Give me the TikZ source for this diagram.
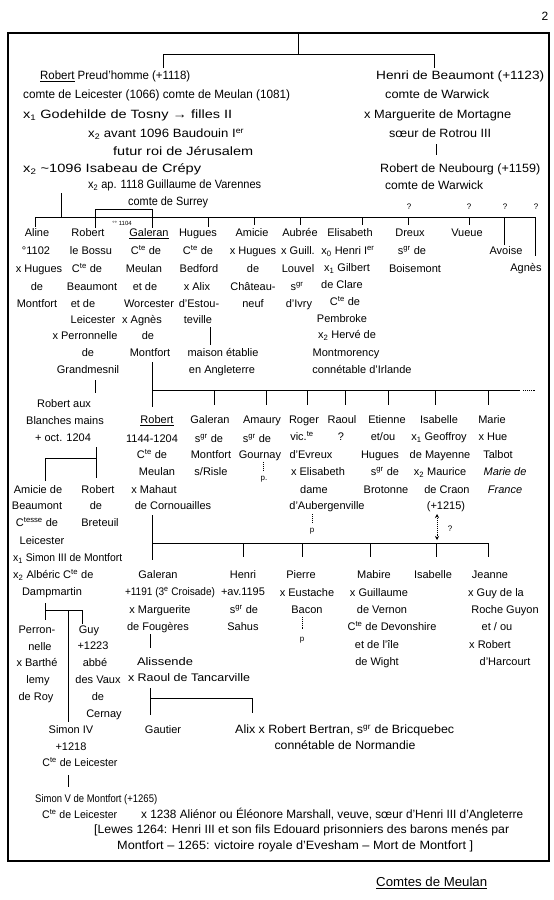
\documentclass[tikz,border=0pt]{standalone}
\usepackage{fontspec}
\usepackage{graphicx}
\setmainfont{Liberation Sans}
\usetikzlibrary{arrows.meta}
\newcommand\Cte{C\textsuperscript{te}}
\newcommand\xs[1]{x\textsubscript{#1}}
\newcommand\fw[2]{\resizebox{#1pt}{\height}{#2}}
\begin{document}
\begin{tikzpicture}[x=1pt,y=-1pt,
  t/.style={inner sep=0pt,text height=8pt,text depth=1pt,font=\fontsize{11}{12}\selectfont},
  tl/.style={t,anchor=west},
  big/.style={font=\fontsize{12}{14}\selectfont},
  sm/.style={font=\fontsize{8}{9}\selectfont},
  ln/.style={line width=0.9pt},
  dl/.style={line width=0.9pt,densely dotted}]
\useasboundingbox (0,0) rectangle (554,900);
\fill[white] (0,0) rectangle (554,900);
\draw[line width=1.2pt] (8,33) rectangle (549,861);
\node[t,big] (pg) at (545,17) {2};

% ---------- top generation
\draw[ln] (298,33) -- (298,54);
\draw[ln] (163,68) -- (163,54) -- (434,54) -- (434,68);

\node[tl,big] (rp1) at (40,76) {\fw{150}{\underline{Robert} Preud'homme (+1118)}};
\node[tl,big] (rp2) at (23,95) {\fw{267}{comte de Leicester (1066) comte de Meulan (1081)}};
\node[tl,big] (rp3) at (23,115) {\fw{209}{\xs{1} Godehilde de Tosny → filles II}};
\node[tl,big] (rp4) at (88,134) {\fw{156}{\xs{2} avant 1096 Baudouin I\textsuperscript{er}}};
\node[tl,big] (rp5) at (113,152) {\fw{140}{futur roi de Jérusalem}};
\node[tl,big] (rp6) at (23,169) {\fw{178}{\xs{2} \textasciitilde1096 Isabeau de Crépy}};
\node[tl,big] (rp7) at (88,185) {\fw{173}{\xs{2} ap. 1118 Guillaume de Varennes}};
\node[tl,big] (rp8) at (128,202) {\fw{80}{comte de Surrey}};

\node[tl,big] (hb1) at (376,76) {\fw{168}{Henri de Beaumont (+1123)}};
\node[tl,big] (hb2) at (385,95) {\fw{104}{comte de Warwick}};
\node[tl,big] (hb3) at (364,115) {\fw{147}{x Marguerite de Mortagne}};
\node[tl,big] (hb4) at (389,134) {\fw{102}{sœur de Rotrou III}};
\draw[ln] (436,144) -- (436,155);
\node[tl,big] (rn1) at (380,169) {\fw{160}{Robert de Neubourg (+1159)}};
\node[tl,big] (rn2) at (385,186) {\fw{98}{comte de Warwick}};

% ---------- children of Robert Preud'homme
\draw[ln] (61,193) -- (61,217);
\draw[ln] (35,217) -- (535,217);
\draw[ln] (35,217) -- (35,227);
\draw[ln] (95,228) -- (95,209) -- (152,209) -- (152,228);
\node[t,font=\fontsize{6}{7}\selectfont] (tw) at (122,222) {°° 1104};
\draw[ln] (208,217) -- (208,227);
\draw[ln] (254,217) -- (254,225);
\draw[ln] (300,217) -- (300,225);
\draw[ln] (362,217) -- (362,225);
\draw[ln] (408,217) -- (408,225);
\draw[ln] (469,217) -- (469,225);
\draw[ln] (504,217) -- (504,245);
\draw[ln] (535,217) -- (535,256);
\node[t,sm] (q1) at (409,206) {?};
\node[t,sm] (q2) at (469,206) {?};
\node[t,sm] (q3) at (505,206) {?};
\node[t,sm] (q4) at (536,206) {?};

\node[t] (al1) at (37,233) {Aline};
\node[t] (al2) at (36,251) {°1102};
\node[t] (al3) at (39,269) {x Hugues};
\node[t] (al4) at (37,287) {de};
\node[t] (al5) at (37,304) {Montfort};

\node[t] (rb1) at (88,233) {Robert};
\node[t] (rb2) at (91,251) {le Bossu};
\node[t] (rb3) at (87,269) {\Cte{} de};
\node[t] (rb4) at (92,287) {Beaumont};
\node[t] (rb5) at (83,304) {et de};
\node[t] (rb6) at (93,320) {Leicester};
\node[t] (rb7) at (85,336) {x Perronnelle};
\node[t] (rb8) at (88,353) {de};
\node[t] (rb9) at (88,370) {Grandmesnil};

\node[t] (ga1) at (149,233) {\underline{Galeran}};
\node[t] (ga2) at (146,251) {\Cte{} de};
\node[t] (ga3) at (144,269) {Meulan};
\node[t] (ga4) at (145,287) {et de};
\node[t] (ga5) at (149,304) {Worcester};
\node[t] (ga6) at (142,320) {x Agnès};
\node[t] (ga7) at (148,336) {de};
\node[t] (ga8) at (150,353) {Montfort};

\node[t] (hu1) at (198,233) {Hugues};
\node[t] (hu2) at (198,251) {\Cte{} de};
\node[t] (hu3) at (199,269) {Bedford};
\node[t] (hu4) at (197,287) {x Alix};
\node[t] (hu5) at (199,304) {d'Estou-};
\node[t] (hu6) at (198,320) {teville};
\draw[ln] (210,327) -- (210,345);
\node[t] (hu7) at (223,353) {maison établie};
\node[t] (hu8) at (222,370) {en Angleterre};

\node[t] (am1) at (252,233) {Amicie};
\node[t] (am2) at (253,251) {x Hugues};
\node[t] (am3) at (253,269) {de};
\node[t] (am4) at (253,287) {Château-};
\node[t] (am5) at (253,304) {neuf};

\node[t] (au1) at (300,233) {Aubrée};
\node[t] (au2) at (298,251) {x Guill.};
\node[t] (au3) at (298,269) {Louvel};
\node[t] (au4) at (297,287) {s\textsuperscript{gr}};
\node[t] (au5) at (299,304) {d'Ivry};

\node[t] (el1) at (350,233) {Elisabeth};
\node[t] (el2) at (348,251) {\xs{0} Henri I\textsuperscript{er}};
\node[t] (el3) at (347,268) {\xs{1} Gilbert};
\node[t] (el4) at (342,285) {de Clare};
\node[t] (el5) at (345,302) {\Cte{} de};
\node[t] (el6) at (342,319) {Pembroke};
\node[t] (el7) at (347,335) {\xs{2} Hervé de};
\node[t] (el8) at (346,353) {Montmorency};
\node[t] (el9) at (362,370) {connétable d'Irlande};

\node[t] (dr1) at (410,233) {Dreux};
\node[t] (dr2) at (412,251) {s\textsuperscript{gr} de};
\node[t] (dr3) at (415,269) {Boisemont};
\node[t] (vu1) at (467,233) {Vueue};
\node[t] (av1) at (506,251) {Avoise};
\node[t] (ag1) at (526,268) {Agnès};

% ---------- Robert aux Blanches mains
\draw[ln] (95,380) -- (95,393);
\node[t] (ba1) at (64,404) {Robert aux};
\node[t] (ba2) at (65,421) {Blanches mains};
\node[t] (ba3) at (63,438) {+ oct. 1204};
\draw[ln] (96,447) -- (96,478);
\draw[ln] (45,481) -- (45,458) -- (96,458);

\node[t] (ac1) at (38,490) {Amicie de};
\node[t] (ac2) at (37,506) {Beaumont};
\node[t] (ac3) at (37,523) {C\textsuperscript{tesse} de};
\node[t] (ac4) at (42,541) {Leicester};
\node[tl] (ac5) at (13,558) {\fw{109}{\xs{1} Simon III de Montfort}};
\node[tl] (ac6) at (13,575) {\xs{2} Albéric \Cte{} de};
\node[t] (ac7) at (52,592) {Dampmartin};

\node[t] (bt1) at (98,490) {Robert};
\node[t] (bt2) at (96,506) {de};
\node[t] (bt3) at (100,523) {Breteuil};

\draw[ln] (45,603) -- (45,620);
\draw[ln] (45,610) -- (82,610) -- (82,624);
\draw[ln] (68,610) -- (68,722);

\node[t] (pe1) at (37,630) {Perron-};
\node[t] (pe2) at (40,647) {nelle};
\node[t] (pe3) at (37,663) {x Barthé};
\node[t] (pe4) at (38,680) {lemy};
\node[t] (pe5) at (36,697) {de Roy};

\node[t] (gu1) at (89,630) {Guy};
\node[t] (gu2) at (93,646) {+1223};
\node[t] (gu3) at (95,663) {abbé};
\node[t] (gu4) at (98,680) {des Vaux};
\node[t] (gu5) at (98,697) {de};
\node[t] (gu6) at (104,714) {Cernay};

\node[t] (s41) at (71,730) {Simon IV};
\node[t] (s42) at (71,747) {+1218};
\node[t] (s43) at (80,763) {\fw{75}{\Cte{} de Leicester}};
\draw[ln] (68,775) -- (68,787);
\node[tl] (s51) at (35,799) {\fw{122}{Simon V de Montfort (+1265)}};
\node[tl] (s52) at (42,815) {\fw{75}{\Cte{} de Leicester}};
\node[tl,big] (s53) at (141,815) {\fw{382}{x 1238 Aliénor ou Éléonore Marshall, veuve, sœur d'Henri III d'Angleterre}};
\node[tl,big] (s54) at (94,830) {\fw{415}{[Lewes 1264: Henri III et son fils Edouard prisonniers des barons menés par}};
\node[tl,big] (s55) at (117,846) {\fw{356}{Montfort – 1265: victoire royale d'Evesham – Mort de Montfort ]}};

% ---------- children of Galeran
\draw[ln] (152,362) -- (152,407);
\draw[ln] (152,390) -- (520,390);
\draw[dl] (523,390) -- (535,390);
\foreach \xx in {214,266,307,345,388,435,488} \draw[ln] (\xx,390) -- (\xx,405);

\node[t] (ro1) at (157,420) {\underline{Robert}};
\node[t] (ro2) at (152,439) {1144-1204};
\node[t] (ro3) at (152,455) {\Cte{} de};
\node[t] (ro4) at (157,472) {Meulan};
\node[t] (ro5) at (154,490) {x Mahaut};
\node[t] (ro6) at (173,506) {de Cornouailles};

\node[t] (gs1) at (210,420) {Galeran};
\node[t] (gs2) at (209,439) {s\textsuperscript{gr} de};
\node[t] (gs3) at (211,455) {Montfort};
\node[t] (gs4) at (211,472) {s/Risle};

\node[t] (ay1) at (262,420) {Amaury};
\node[t] (ay2) at (257,439) {s\textsuperscript{gr} de};
\node[t] (ay3) at (260,455) {Gournay};
\draw[dl] (263,462) -- (263,471);
\node[t,sm] (ay4) at (264,477) {p.};

\node[t] (rg1) at (304,420) {Roger};
\node[t] (rg2) at (302,437) {vic.\textsuperscript{te}};
\node[t] (rg3) at (311,455) {d'Evreux};
\node[t] (rg4) at (318,472) {x Elisabeth};
\node[t] (rg5) at (314,490) {dame};
\node[t] (rg6) at (327,506) {d'Aubergenville};
\draw[dl] (312,514) -- (312,522);
\node[t,sm] (rg7) at (312,529) {p};

\node[t] (ra1) at (342,420) {Raoul};
\node[t] (ra2) at (341,437) {?};

\node[t] (et1) at (387,420) {Etienne};
\node[t] (et2) at (383,437) {et/ou};
\node[t] (et3) at (380,455) {Hugues};
\node[t] (et4) at (385,472) {s\textsuperscript{gr} de};
\node[t] (et5) at (386,490) {Brotonne};

\node[t] (is1) at (439,420) {Isabelle};
\node[t] (is2) at (439,437) {\xs{1} Geoffroy};
\node[t] (is3) at (440,455) {de Mayenne};
\node[t] (is4) at (440,472) {\xs{2} Maurice};
\node[t] (is5) at (447,490) {de Craon};
\node[t] (is6) at (446,506) {(+1215)};
\draw[dl,{Stealth[length=4pt,width=4pt]}-{Stealth[length=4pt,width=4pt]}] (437,514) -- (437,540);
\node[t,sm] (is7) at (450,528) {?};

\node[t] (ma1) at (492,420) {Marie};
\node[t] (ma2) at (493,437) {x Hue};
\node[t] (ma3) at (498,455) {Talbot};
\node[t] (ma4) at (505,472) {\itshape Marie de};
\node[t] (ma5) at (505,490) {\itshape France};

% ---------- children of Robert (1144-1204)
\draw[ln] (152,515) -- (152,560);
\draw[ln] (152,543) -- (488,543);
\foreach \xx in {243,302,370,436,488} \draw[ln] (\xx,543) -- (\xx,557);

\node[t] (gl1) at (158,575) {Galeran};
\node[t] (gl2) at (170,592) {\fw{90}{+1191 (3\textsuperscript{e} Croisade)}};
\node[t] (gl3) at (160,610) {x Marguerite};
\node[t] (gl4) at (158,627) {de Fougères};
\draw[ln] (150,634) -- (150,648);
\node[t] (gl5) at (165,662) {\fw{56}{Alissende}};
\node[t] (gl6) at (189,678) {\fw{122}{x Raoul de Tancarville}};
\draw[ln] (150,688) -- (150,715);
\draw[ln] (150,698) -- (252,698) -- (252,713);
\node[t] (gt1) at (163,730) {Gautier};
\node[tl,big] (gt2) at (235,730) {\fw{219}{Alix x Robert Bertran, s\textsuperscript{gr} de Bricquebec}};
\node[t,big] (gt3) at (345,746) {\fw{141}{connétable de Normandie}};

\node[t] (hn1) at (243,575) {Henri};
\node[t] (hn2) at (243,592) {+av.1195};
\node[t] (hn3) at (244,610) {s\textsuperscript{gr} de};
\node[t] (hn4) at (243,627) {Sahus};

\node[t] (pi1) at (301,575) {Pierre};
\node[t] (pi2) at (307,593) {x Eustache};
\node[t] (pi3) at (307,610) {Bacon};
\draw[dl] (302,617) -- (302,630);
\node[t,sm] (pi4) at (302,638) {p};

\node[t] (mb1) at (374,575) {Mabire};
\node[t] (mb2) at (379,593) {x Guillaume};
\node[t] (mb3) at (382,610) {de Vernon};
\node[t] (mb4) at (392,627) {\Cte{} de Devonshire};
\node[t] (mb5) at (377,645) {et de l'île};
\node[t] (mb6) at (377,662) {de Wight};

\node[t] (ib1) at (433,575) {Isabelle};

\node[t] (je1) at (490,575) {Jeanne};
\node[t] (je2) at (496,593) {x Guy de la};
\node[t] (je3) at (505,610) {Roche Guyon};
\node[t] (je4) at (497,627) {et / ou};
\node[t] (je5) at (490,645) {x Robert};
\node[t] (je6) at (505,662) {d'Harcourt};

\node[tl,font=\fontsize{13}{15}\selectfont] (ft) at (376,883) {\fw{111}{\underline{Comtes de Meulan}}};
\end{tikzpicture}
\end{document}
